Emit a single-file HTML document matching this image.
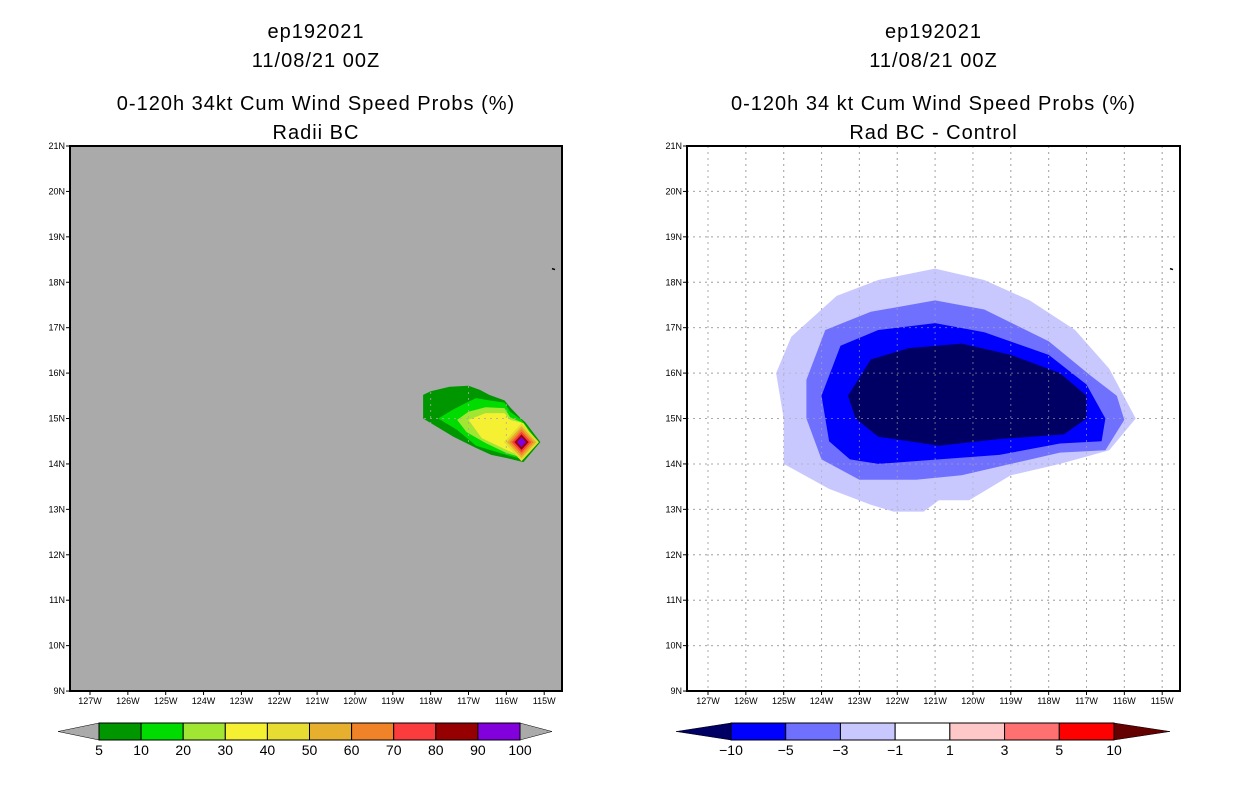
<!DOCTYPE html>
<html><head><meta charset="utf-8"><style>
body{margin:0;background:#fff;width:1236px;height:800px;overflow:hidden}
svg text{font-family:"Liberation Sans",sans-serif}
</style></head><body>
<svg id="c" width="1236" height="800" xmlns="http://www.w3.org/2000/svg"></svg>
<script>
const lonTicks=[-127,-126,-125,-124,-123,-122,-121,-120,-119,-118,-117,-116,-115];
const latTicks=[9,10,11,12,13,14,15,16,17,18,19,20,21];
// Left panel (probabilities)
const probLevels=[5,10,20,30];
const probColors=['#009600','#00dc00','#a0e632','#f5f032'];
const probContours=[
[[-118.2,15.52],[-118.0,15.6],[-117.5,15.7],[-117.0,15.72],[-116.7,15.63],[-116.45,15.52],[-116.05,15.4],[-115.9,15.25],[-115.65,15.03],[-115.5,14.92],[-115.1,14.48],[-115.55,14.04],[-116.0,14.13],[-116.4,14.2],[-116.8,14.35],[-117.4,14.6],[-117.7,14.75],[-118.2,15.0]],
[[-117.8,15.0],[-117.4,15.2],[-117.05,15.35],[-116.8,15.45],[-116.45,15.4],[-116.05,15.35],[-115.9,15.15],[-115.6,14.97],[-115.15,14.48],[-115.55,14.1],[-116.0,14.2],[-116.8,14.4],[-117.3,14.75]],
[[-117.3,14.97],[-117.0,15.15],[-116.55,15.25],[-116.05,15.23],[-115.9,15.03],[-115.6,14.92],[-115.2,14.48],[-115.55,14.13],[-116.0,14.24],[-116.55,14.46],[-117.05,14.7]],
[[-117.0,14.97],[-116.55,15.12],[-116.05,15.12],[-115.9,14.97],[-115.55,14.9],[-115.2,14.48],[-115.55,14.15],[-116.0,14.31],[-116.65,14.57]]
];
const peakLon=-115.6, peakLat=14.48;
const peakLevels=[40,50,60,70,80,90,100];
const peakRadius=[0.42,0.35,0.29,0.23,0.17,0.11,0.06];
const peakColors=['#e6dc32','#e6af2d','#f08228','#fa3c3c','#960000','#8200dc','#8200dc'];
// Right panel (difference)
const diffLevels=[-1,-3,-5,-10];
const diffColors=['#c8c8ff','#7070ff','#0000ff','#000064'];
const diffContours=[
[[-125.2,16.0],[-124.8,16.8],[-123.6,17.7],[-122.5,18.05],[-121.0,18.3],[-119.7,18.05],[-118.5,17.6],[-117.3,16.95],[-116.4,16.1],[-115.7,15.0],[-116.4,14.3],[-117.7,14.0],[-119.0,13.75],[-120.1,13.2],[-120.9,13.2],[-121.3,12.95],[-122.1,12.95],[-122.7,13.1],[-123.8,13.45],[-125.0,14.0],[-125.0,15.0]],
[[-124.4,15.85],[-123.9,16.95],[-122.7,17.35],[-121.0,17.6],[-119.7,17.4],[-118.0,16.7],[-116.9,15.95],[-116.2,15.5],[-116.0,14.97],[-116.5,14.3],[-117.7,14.25],[-119.0,14.0],[-120.3,13.75],[-121.5,13.65],[-123.0,13.65],[-124.0,14.1],[-124.4,15.0]],
[[-124.0,15.5],[-123.5,16.6],[-122.5,16.95],[-121.0,17.1],[-119.7,16.9],[-118.0,16.4],[-117.0,15.75],[-116.5,15.0],[-116.6,14.5],[-117.7,14.45],[-119.3,14.2],[-120.9,14.1],[-122.5,14.0],[-123.25,14.1],[-123.8,14.5]],
[[-123.3,15.5],[-122.7,16.3],[-121.7,16.55],[-120.3,16.65],[-119.0,16.4],[-117.7,16.0],[-117.0,15.5],[-117.0,15.0],[-117.6,14.65],[-119.3,14.55],[-120.9,14.4],[-122.5,14.6],[-123.1,15.0]]
];
const cb1Labels=['5','10','20','30','40','50','60','70','80','90','100'];
const cb1Colors=['#009600','#00dc00','#a0e632','#f5f032','#e6dc32','#e6af2d','#f08228','#fa3c3c','#960000','#8200dc'];
const cb2Labels=['\u221210','\u22125','\u22123','\u22121','1','3','5','10'];
const cb2Colors=['#0000ff','#7070ff','#c8c8ff','#ffffff','#ffc8c8','#ff7070','#ff0000'];

const svg=document.getElementById('c');
const NS='http://www.w3.org/2000/svg';
function mk(tag,attrs,parent){const e=document.createElementNS(NS,tag);for(const k in attrs)e.setAttribute(k,attrs[k]);(parent||svg).appendChild(e);return e;}
function txt(x,y,s,size,anchor,parent){const t=mk('text',{x:x,y:y,'font-size':size,'text-anchor':anchor||'middle',fill:'#000'},parent);t.textContent=s;return t;}

function panel(x0,x1,lonRef,titles,grey,name){
  const g=mk('g',{});
  
  
  const top=146,bot=691;
  const sx=lon=>lonRef+(lon+127)*37.85;
  const sy=lat=>top+(21-lat)*45.42;
  const cx=(x0+x1)/2;
  const ys=[38,67,110,139];
  titles.forEach((s,i)=>{const t=txt(cx,ys[i],s,20,'middle',g);t.setAttribute('letter-spacing','1');
    
    });
  const bg=mk('rect',{x:x0,y:top,width:x1-x0,height:bot-top,fill:grey?'#aaaaaa':'#fff'},g);
  
  
  if(!grey){
  const grid=mk('g',{stroke:'#aaa','stroke-width':1,'stroke-dasharray':'2,4'},g);
  
  
  lonTicks.forEach(l=>mk('line',{x1:sx(l),x2:sx(l),y1:top,y2:bot},grid));
  latTicks.forEach(l=>mk('line',{x1:x0,x2:x1,y1:sy(l),y2:sy(l)},grid));
  }
  return {g,sx,sy,top,bot};
}
function poly(p,pts,fill,name){
  const e=mk('polygon',{points:pts.map(q=>p.sx(q[0]).toFixed(1)+','+p.sy(q[1]).toFixed(1)).join(' '),fill:fill},p.g);
  
  
}
function gridOverlay(p,x0,x1,color,op){
  const grid=mk('g',{stroke:color,'stroke-width':1,'stroke-dasharray':'2,4','opacity':op},p.g);
  
  
  lonTicks.forEach(l=>mk('line',{x1:p.sx(l),x2:p.sx(l),y1:p.top,y2:p.bot},grid));
  latTicks.forEach(l=>mk('line',{x1:x0,x2:x1,y1:p.sy(l),y2:p.sy(l)},grid));
}
function frame(p,x0,x1){
  const f=mk('rect',{x:x0,y:p.top,width:x1-x0,height:p.bot-p.top,fill:'none',stroke:'#000','stroke-width':2},p.g);
  
  
  lonTicks.forEach(l=>{mk('line',{x1:p.sx(l),x2:p.sx(l),y1:p.bot,y2:p.bot+4,stroke:'#000'},p.g);
    const t=txt(p.sx(l),p.bot+13,(-l)+'W',9,'middle',p.g);
    
    });
  latTicks.forEach(l=>{mk('line',{x1:x0-4,x2:x0,y1:p.sy(l),y2:p.sy(l),stroke:'#000'},p.g);
    const t=txt(x0-5,p.sy(l)+3,l+'N',9,'end',p.g);
    
    });
  mk('line',{x1:x1-10,x2:x1-7,y1:p.sy(18.3),y2:p.sy(18.28),stroke:'#000','stroke-width':1.5},p.g);
}

// Left panel
const L=panel(70,562,90,['ep192021','11/08/21 00Z','0-120h 34kt Cum Wind Speed Probs (%)','Radii BC'],true,'left-panel');
probContours.forEach((c,i)=>poly(L,c,probColors[i],'prob-contour-'+probLevels[i]));
peakLevels.forEach((lv,i)=>{const r=peakRadius[i];
  poly(L,[[peakLon-r*1.1,peakLat],[peakLon,peakLat+r],[peakLon+r*1.1,peakLat],[peakLon,peakLat-r]],peakColors[i],'prob-contour-'+lv);});
gridOverlay(L,70,562,'#aaaaaa',0.8);
frame(L,70,562);

// Right panel
const R=panel(687,1180,708,['ep192021','11/08/21 00Z','0-120h 34 kt Cum Wind Speed Probs (%)','Rad BC - Control'],false,'right-panel');
diffContours.forEach((c,i)=>poly(R,c,diffColors[i],'diff-contour-'+diffLevels[i]));
gridOverlay(R,687,1180,'#aaa',0.6);
frame(R,687,1180);

// Colorbars
function colorbar(x0,x1,tl,tr,colors,labels,lc,rc,name){
  const g=mk('g',{});
  
  
  const y0=723,y1=740,ym=(y0+y1)/2;
  const w=(x1-x0)/colors.length;
  mk('polygon',{points:`${tl},${ym} ${x0},${y0} ${x0},${y1}`,fill:lc,stroke:'#000','stroke-width':0.5},g);
  mk('polygon',{points:`${tr},${ym} ${x1},${y0} ${x1},${y1}`,fill:rc,stroke:'#000','stroke-width':0.5},g);
  colors.forEach((c,i)=>{const r=mk('rect',{x:x0+i*w,y:y0,width:w,height:y1-y0,fill:c,stroke:'#000','stroke-width':1},g);
    
    });
  labels.forEach((s,i)=>{const t=txt(x0+i*w,755,s,14,'middle',g);
    
    });
}
colorbar(99,520,58,552,cb1Colors,cb1Labels,'#aaaaaa','#aaaaaa','left-colorbar');
colorbar(731,1114,676,1170,cb2Colors,cb2Labels,'#000064','#640000','right-colorbar');
</script>
</body></html>
